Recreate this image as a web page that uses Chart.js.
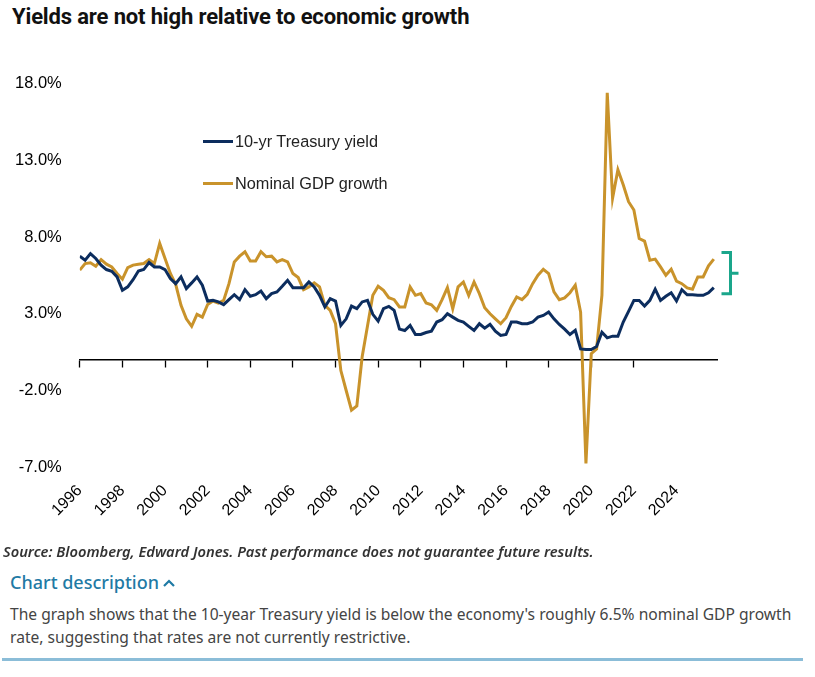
<!DOCTYPE html>
<html>
<head>
<meta charset="utf-8">
<title>Yields are not high relative to economic growth</title>
<script src="https://cdn.jsdelivr.net/npm/chart.js@4.4.1/dist/chart.umd.min.js"></script>
<style>
  html, body { margin: 0; padding: 0; background: #fff; }
  body { width: 815px; height: 677px; position: relative; overflow: hidden; }
  .title { position: absolute; left: 12px; top: 4px; margin: 0; font: 700 22px Roboto, sans-serif; color: #111; letter-spacing: -0.15px; }
  .chart-wrap { position: absolute; left: 0; top: 40px; width: 815px; height: 504px; }
  .legend { position: absolute; left: 203px; top: 130px; font: 16.3px "Liberation Sans", Arial, sans-serif; color: #222; }
  .legend-item { display: flex; align-items: center; height: 22px; margin-bottom: 20px; }
  .legend-swatch { width: 30px; height: 3px; margin-right: 2px; }
  .source { position: absolute; left: 3px; top: 541px; font: italic 600 14.7px "Noto Sans", sans-serif; color: #333; }
  .desc-head { position: absolute; left: 10px; top: 570px; font: 500 18px "Noto Sans", sans-serif; color: #1f7aa5; }
  .desc-head svg { margin-left: 4px; vertical-align: 2px; }
  .desc { position: absolute; left: 10px; top: 603px; width: 805px; font: 15.6px/23px "Noto Sans", sans-serif; color: #444; }
  .rule { position: absolute; left: 2px; top: 658px; width: 801px; height: 3px; background: #8bbdd8; }
</style>
</head>
<body>
<h1 class="title">Yields are not high relative to economic growth</h1>
<div class="chart-wrap"><canvas id="chart"></canvas></div>
<div class="legend" id="legend"></div>
<div class="source">Source: Bloomberg, Edward Jones. Past performance does not guarantee future results.</div>
<div class="desc-head">Chart description<svg width="12" height="8" viewBox="0 0 12 8"><polyline points="1,7 6,2 11,7" fill="none" stroke="#1f7aa5" stroke-width="2.2"/></svg></div>
<div class="desc">The graph shows that the 10-year Treasury yield is below the economy's roughly 6.5% nominal GDP growth rate, suggesting that rates are not currently restrictive.</div>
<div class="rule"></div>

<script>
'use strict';

// ── Data (quarterly, %) ───────────────────────────────────────────
const years = [];
for (let y = 1996; y <= 2025; y++) years.push(y);
const quarters = years.flatMap(y => [`${y} Q1`, `${y} Q2`, `${y} Q3`, `${y} Q4`]);

const yTicks     = [-7, -2, 3, 8, 13, 18];
const xTickEvery = 8;   // one labelled tick every two years

const treasuryYield = [
  6.75, 6.49, 6.92, 6.60, 6.17, 5.88, 5.77, 5.40, 4.53, 4.75,
  5.22, 5.79, 5.88, 6.34, 6.05, 6.05, 5.88, 5.29, 4.96, 5.40,
  4.64, 5.01, 5.40, 4.86, 3.83, 3.87, 3.77, 3.59, 3.92, 4.24,
  3.92, 4.57, 4.14, 4.24, 4.48, 3.98, 4.31, 4.42, 4.79, 5.18,
  4.70, 4.70, 4.70, 5.07, 4.75, 4.20, 3.44, 3.98, 3.83, 2.24,
  2.67, 3.50, 3.33, 3.77, 3.87, 2.96, 2.52, 3.33, 3.48, 3.22,
  2.00, 1.91, 2.24, 1.65, 1.65, 1.78, 1.87, 2.46, 2.61, 3.00,
  2.78, 2.57, 2.46, 2.18, 1.91, 2.35, 2.06, 2.31, 1.87, 1.59,
  1.65, 2.46, 2.46, 2.35, 2.35, 2.46, 2.78, 2.89, 3.11, 2.67,
  2.30, 2.00, 1.65, 1.92, 0.71, 0.67, 0.67, 0.87, 1.80, 1.43,
  1.54, 1.54, 2.46, 3.16, 3.87, 3.87, 3.50, 3.87, 4.60, 3.87,
  4.14, 4.37, 3.83, 4.57, 4.24, 4.24, 4.20, 4.20, 4.37, 4.70,
];

const gdpGrowth = [
  5.84, 6.27, 6.32, 6.10, 6.53, 6.23, 6.05, 5.62, 5.25, 6.01,
  6.17, 6.23, 6.27, 6.53, 6.27, 7.58, 6.60, 5.62, 4.92, 3.55,
  2.67, 2.18, 2.96, 2.78, 3.61, 3.83, 3.70, 3.87, 4.96, 6.38,
  6.75, 7.04, 6.43, 6.43, 7.04, 6.71, 6.75, 6.38, 6.53, 6.38,
  5.62, 5.36, 4.57, 4.75, 5.01, 4.75, 3.55, 3.22, 2.35, -0.70,
  -2.00, -3.28, -3.00, 0.20, 2.20, 4.20, 4.79, 4.53, 4.05, 3.92,
  3.44, 3.44, 4.75, 4.20, 4.31, 3.70, 3.59, 3.22, 3.92, 4.70,
  3.33, 4.75, 5.07, 4.20, 5.07, 4.31, 3.39, 3.00, 2.67, 2.35,
  2.74, 3.48, 4.09, 3.92, 4.27, 4.96, 5.51, 5.90, 5.62, 4.42,
  3.92, 4.03, 4.37, 4.86, 3.11, -6.75, 0.40, 0.71, 4.20, 17.39,
  10.52, 12.38, 11.40, 10.30, 9.76, 7.90, 7.73, 6.49, 6.56, 6.05,
  5.51, 5.90, 5.12, 4.96, 4.68, 4.60, 5.40, 5.40, 6.12, 6.56,
];

// ── Styling ───────────────────────────────────────────────────────
const NAVY  = '#0c2d5e';
const GOLD  = '#c9932b';
const TEAL  = '#1aa68b';
const LABEL_FONT = '"Liberation Sans", Arial, sans-serif';

const toPoints = arr => arr.map((v, i) => ({ x: i, y: v }));
const keepYearTicks = scale => {
  scale.ticks = scale.ticks.filter(t => Number.isInteger(t.value) && t.value % xTickEvery === 0);
};

// Bracket to the right of the last points, spanning the yield/GDP gap
const gapBracket = {
  id: 'gapBracket',
  afterDraw(chart) {
    const { ctx, chartArea, scales: { y } } = chart;
    const ends = chart.data.datasets.map(ds => ds.data[ds.data.length - 1].y);
    const top    = y.getPixelForValue(Math.max(...ends)) - 6.5;
    const bottom = y.getPixelForValue(Math.min(...ends)) + 6;
    const xArm   = chartArea.right + 4.5;
    const xBar   = chartArea.right + 13.5;
    const mid    = (top + bottom) / 2;

    ctx.save();
    ctx.strokeStyle = TEAL;
    ctx.lineWidth = 3;
    ctx.beginPath();
    ctx.moveTo(xArm, top);
    ctx.lineTo(xBar, top);
    ctx.lineTo(xBar, bottom);
    ctx.lineTo(xArm, bottom);
    ctx.moveTo(xBar, mid);
    ctx.lineTo(xBar + 8, mid);
    ctx.stroke();
    ctx.restore();
  },
};

const chart = new Chart(document.getElementById('chart'), {
  type: 'line',
  data: {
    datasets: [
      {
        label: '10-yr Treasury yield',
        data: toPoints(treasuryYield),
        borderColor: NAVY,
        backgroundColor: NAVY,
        borderWidth: 3,
        pointRadius: 0,
        tension: 0,
      },
      {
        label: 'Nominal GDP growth',
        data: toPoints(gdpGrowth),
        borderColor: GOLD,
        backgroundColor: GOLD,
        borderWidth: 3,
        pointRadius: 0,
        tension: 0,
      },
    ],
  },
  options: {
    responsive: true,
    maintainAspectRatio: false,
    animation: false,
    layout: { padding: { top: 43.5, left: 15, right: 98, bottom: 10 } },
    plugins: {
      legend:  { display: false },
      tooltip: { enabled: false },
    },
    scales: {
      x: {
        type: 'linear',
        min: 0,
        max: quarters.length - 0.4,
        position: 'bottom',
        afterBuildTicks: keepYearTicks,
        // rotated labels would otherwise push the plot to the right
        afterFit: scale => { scale.paddingLeft = 0; scale.paddingRight = 0; },
        grid:   { display: false, drawTicks: false },
        border: { display: false },
        ticks: {
          stepSize: xTickEvery,
          autoSkip: false,
          maxRotation: 45,
          minRotation: 45,
          padding: 14,
          color: '#000',
          font: { family: LABEL_FONT, size: 16 },
          callback: v => (quarters[v] || '').slice(0, 4),
        },
      },
      xAxisLine: {
        type: 'linear',
        axis: 'x',
        min: 0,
        max: quarters.length - 0.4,
        position: { y: 0 },
        afterBuildTicks: keepYearTicks,
        grid:   { drawOnChartArea: false, drawTicks: true, tickLength: 7, tickColor: '#000', tickWidth: 1.3 },
        border: { display: true, color: '#000', width: 1.5 },
        ticks:  { display: false, stepSize: xTickEvery },
      },
      y: {
        min: yTicks[0],
        max: yTicks[yTicks.length - 1],
        afterBuildTicks: scale => { scale.ticks = yTicks.map(v => ({ value: v })); },
        // Chart.js reserves the tick padding twice; keep it only once
        afterFit: scale => { scale.width -= scale.options.ticks.padding; },
        grid:   { display: false, drawTicks: false },
        border: { display: false },
        ticks: {
          padding: 18,
          color: '#000',
          font: { family: LABEL_FONT, size: 16.5 },
          callback: v => v.toFixed(1) + '%',
        },
      },
    },
  },
  plugins: [gapBracket],
});

// Legend placed inside the plot, built from the datasets
const legendEl = document.getElementById('legend');
chart.data.datasets.forEach(ds => {
  const item = document.createElement('div');
  item.className = 'legend-item';
  const sw = document.createElement('span');
  sw.className = 'legend-swatch';
  sw.style.background = ds.borderColor;
  const txt = document.createElement('span');
  txt.textContent = ds.label;
  item.append(sw, txt);
  legendEl.appendChild(item);
});
</script>
</body>
</html>
